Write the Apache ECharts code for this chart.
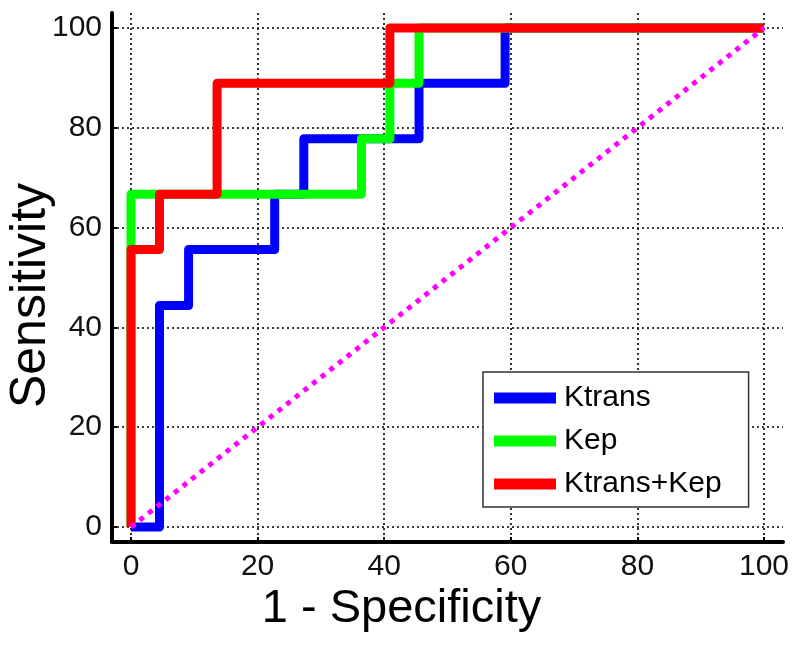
<!DOCTYPE html>
<html>
<head>
<meta charset="utf-8">
<script src="https://cdn.jsdelivr.net/npm/echarts@6/dist/echarts.min.js"></script>
<style>
  html, body { margin: 0; padding: 0; background: #fff; }
  #chart { width: 800px; height: 652px; }
</style>
</head>
<body>
<div id="chart"></div>
<script>
// ROC curves, values in percent (1 - specificity, sensitivity)
const fprKtrans = [0, 4.5, 4.5, 9.1, 9.1, 22.7, 22.7, 27.3, 27.3, 45.5, 45.5, 59.1, 59.1, 100]
const tprKtrans = [0, 0, 44.4, 44.4, 55.6, 55.6, 66.7, 66.7, 77.8, 77.8, 88.9, 88.9, 100, 100]

const fprKep = [0, 0, 36.4, 36.4, 40.9, 40.9, 45.5, 45.5, 100]
const tprKep = [0, 66.7, 66.7, 77.8, 77.8, 88.9, 88.9, 100, 100]

const fprBoth = [0, 0, 4.5, 4.5, 13.6, 13.6, 40.9, 40.9, 100]
const tprBoth = [0, 55.6, 55.6, 66.7, 66.7, 88.9, 88.9, 100, 100]

const fprChance = [0, 100]
const tprChance = [0, 100]

const tickValues = [0, 20, 40, 60, 80, 100]
const seriesNames = ["Ktrans", "Kep", "Ktrans+Kep"]

const font = "Liberation Sans, Arial, sans-serif"

const pairs = (xs, ys) => xs.map((x, i) => [x, ys[i]])

const chart = echarts.init(document.getElementById("chart"))

const axisCommon = {
  type: "value",
  min: -3,
  max: 103,
  axisLine: { show: true, onZero: false, lineStyle: { color: "#000", width: 4 } },
  axisTick: {
    show: true,
    inside: true,
    length: 5,
    customValues: tickValues,
    lineStyle: { color: "#000", width: 2 }
  },
  axisLabel: {
    customValues: tickValues,
    color: "#111",
    fontSize: 30,
    fontFamily: font
  },
  splitLine: {
    show: true,
    lineStyle: { color: "#000", width: 1.6, type: [2, 3] }
  },
  nameLocation: "middle",
  nameMoveOverlap: false
}

const stepLine = (name, data, color) => ({
  name: name,
  type: "line",
  data: data,
  symbol: "none",
  color: color,
  lineStyle: { color: color, width: 9, join: "round", cap: "butt" }
})

chart.setOption({
  animation: false,
  grid: { left: 112, right: 17, top: 13, bottom: 110, outerBoundsMode: "none", containLabel: false },
  xAxis: Object.assign({}, axisCommon, {
    name: "1 - Specificity",
    nameGap: 44,
    nameTextStyle: { color: "#000", fontSize: 47, fontFamily: font, padding: [0, 92, 0, 0] },
    axisLabel: Object.assign({}, axisCommon.axisLabel, { margin: 10 })
  }),
  yAxis: Object.assign({}, axisCommon, {
    name: "Sensitivity",
    nameGap: 56,
    nameRotate: 90,
    nameTextStyle: { color: "#000", fontSize: 50, fontFamily: font, padding: [0, 36, 0, 0] },
    axisLabel: Object.assign({}, axisCommon.axisLabel, { margin: 10 })
  }),
  legend: {
    data: seriesNames,
    orient: "vertical",
    left: 483,
    top: 372,
    padding: [11, 27, 8, 11],
    itemGap: 13,
    itemWidth: 62,
    itemHeight: 11,
    icon: "rect",
    backgroundColor: "#fff",
    borderColor: "#333",
    borderWidth: 1.5,
    textStyle: { color: "#000", fontSize: 30, fontFamily: font, padding: [0, 0, 0, 3] }
  },
  series: [
    stepLine("Ktrans", pairs(fprKtrans, tprKtrans), "#0000ff"),
    stepLine("Kep", pairs(fprKep, tprKep), "#00ff00"),
    stepLine("Ktrans+Kep", pairs(fprBoth, tprBoth), "#ff0000"),
    {
      name: "chance",
      type: "line",
      data: pairs(fprChance, tprChance),
      symbol: "none",
      color: "#ff00ff",
      lineStyle: { color: "#ff00ff", width: 5, type: [5, 6] }
    }
  ]
})
</script>
</body>
</html>
